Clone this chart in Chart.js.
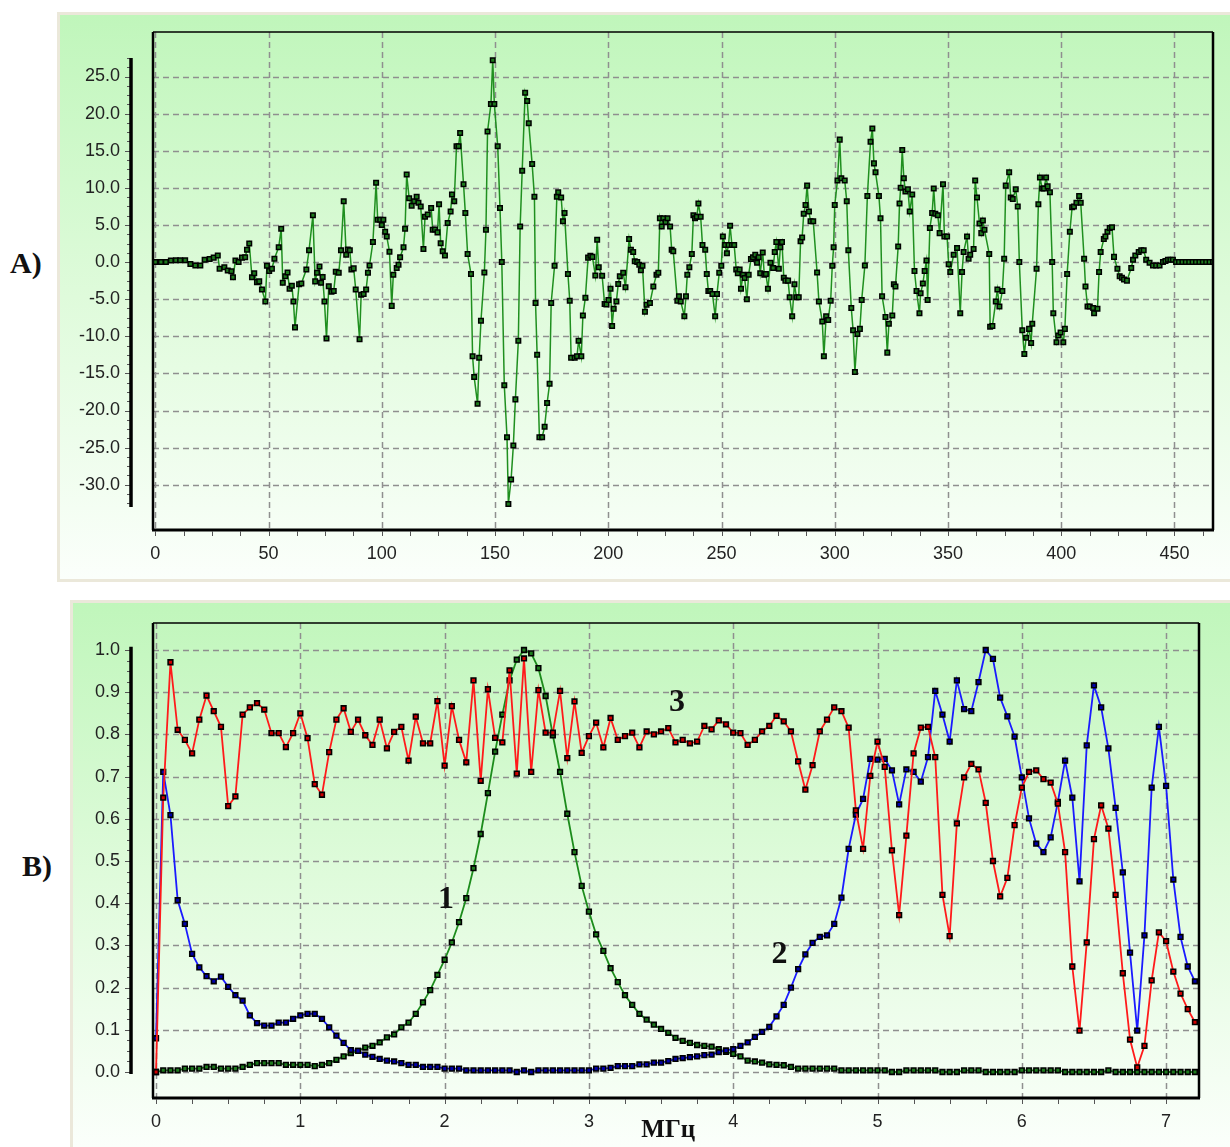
<!DOCTYPE html>
<html>
<head>
<meta charset="utf-8">
<script src="https://cdn.jsdelivr.net/npm/chart.js@4.4.1/dist/chart.umd.min.js"></script>
<style>
  body { margin: 0; width: 1230px; height: 1147px; background: #fff; position: relative; overflow: hidden; }
  .panel { position: absolute; box-sizing: border-box; background: linear-gradient(to bottom, #c0f6bb 0%, #dffbdb 50%, #fbfffb 100%); border: 3px solid #ebe8da; border-right: 0; }
  #panelA { left: 57px; top: 12px; width: 1173px; height: 570px; }
  #panelB { left: 70px; top: 600px; width: 1160px; height: 547px; border-bottom: 0; }
  canvas { position: absolute; }
  #chartA { left: 57px; top: 12px; }
  #chartB { left: 70px; top: 600px; }
  .tag { position: absolute; font: bold 30px "Liberation Serif", "DejaVu Serif", serif; line-height: 30px; color: #111; }
</style>
</head>
<body>
<div class="panel" id="panelA"></div>
<div class="panel" id="panelB"></div>
<canvas id="chartA" width="1173" height="570"></canvas>
<canvas id="chartB" width="1160" height="547"></canvas>
<div class="tag" style="left:10px;top:248px">A)</div>
<div class="tag" style="left:22px;top:851px">B)</div>
<script>
// signal (upper panel): sample positions and amplitudes
const timeA = [
  0, 2.5, 4.7, 6.9, 9.1, 11.0, 13.2, 15.5, 17.7, 19.9,
  21.8, 24.0, 25.8, 27.6, 28.4, 30.5, 32.0, 33.6, 34.3, 35.4,
  36.8, 38.3, 39.7, 40.5, 41.5, 42.7, 43.7, 44.9, 45.9, 47.1,
  48.6, 49.3, 50.3, 51.5, 52.6, 54.5, 55.6, 56.3, 57.4, 58.4,
  59.3, 60.3, 61.0, 61.7, 63.5, 64.5, 66.7, 67.9, 69.6, 70.6,
  71.4, 72.5, 73.2, 73.9, 74.7, 75.6, 76.6, 77.8, 78.8, 79.7,
  81.0, 82.0, 83.2, 84.3, 85.0, 85.9, 86.6, 87.6, 88.5, 90.2,
  90.9, 92.0, 93.1, 93.9, 94.6, 96.1, 97.5, 98.2, 99.3, 100.0,
  100.7, 101.5, 102.2, 103.4, 104.4, 105.1, 106.6, 107.4, 108.1, 109.6,
  110.3, 111.0, 112.1, 113.2, 114.3, 115.4, 116.2, 117.2, 118.4, 119.1,
  120.3, 121.8, 122.5, 123.5, 124.6, 125.3, 126.0, 126.9, 127.9, 129.1,
  130.4, 131.0, 132.0, 133.0, 133.9, 134.6, 136.1, 136.9, 137.9, 139.4,
  140.1, 140.8, 142.3, 143.0, 143.8, 145.3, 146.0, 146.7, 148.2, 149.0,
  149.7, 151.2, 152.2, 153.0, 154.1, 155.3, 155.9, 157.1, 158.1, 159.0,
  160.3, 161.1, 162.0, 163.3, 164.2, 164.9, 166.4, 167.4, 167.9, 168.6,
  169.6, 170.8, 171.9, 173.0, 174.1, 174.8, 176.3, 177.3, 177.9, 179.2,
  180.0, 180.7, 182.2, 183.0, 183.6, 185.2, 186.2, 186.9, 188.1, 188.8,
  189.9, 191.1, 192.1, 193.0, 194.3, 195.1, 195.8, 197.3, 198.4, 199.2,
  200.1, 201.0, 201.7, 202.4, 203.6, 204.4, 205.1, 206.6, 207.6, 209.2,
  210.0, 211.0, 211.7, 212.8, 213.7, 214.4, 215.1, 216.2, 216.9, 218.4,
  219.9, 221.3, 222.1, 222.8, 223.6, 224.3, 225.3, 226.2, 227.3, 228.0,
  228.7, 230.5, 231.2, 232.0, 233.6, 234.3, 234.9, 235.8, 236.9, 237.6,
  238.3, 239.1, 239.8, 240.8, 241.6, 242.8, 243.5, 244.2, 245.0, 246.0,
  247.2, 248.0, 249.0, 249.9, 250.6, 251.6, 252.4, 253.1, 253.8, 254.6,
  255.6, 256.5, 257.2, 258.0, 258.6, 259.5, 260.2, 261.2, 262.0, 263.0,
  263.9, 264.9, 265.7, 266.4, 267.1, 268.2, 268.9, 269.6, 270.5, 271.6,
  272.8, 273.5, 274.2, 275.3, 276.0, 276.7, 277.5, 278.2, 279.4, 280.1,
  281.2, 282.2, 283.1, 284.1, 284.9, 285.6, 286.3, 287.1, 287.8, 288.6,
  289.3, 290.5, 292.2, 293.0, 294.5, 295.2, 296.2, 297.1, 298.2, 298.9,
  299.5, 300.0, 301.2, 302.2, 302.9, 304.4, 305.3, 306.0, 307.3, 308.1,
  308.9, 310.0, 311.1, 311.9, 313.3, 314.4, 315.8, 316.6, 317.3, 318.0,
  319.5, 320.2, 320.9, 322.4, 323.2, 323.9, 325.4, 326.1, 326.8, 328.0,
  328.6, 329.1, 329.8, 330.5, 331.2, 332.3, 333.1, 334.2, 335.2, 336.1,
  337.4, 337.9, 338.9, 339.7, 340.5, 341.0, 342.0, 343.0, 343.7, 344.4,
  345.5, 346.3, 347.8, 348.4, 349.6, 350.3, 351.0, 352.5, 354.0, 355.4,
  356.2, 356.9, 358.4, 359.1, 359.8, 361.3, 362.0, 362.8, 363.9, 364.7,
  365.4, 366.1, 368.2, 368.6, 369.6, 371.1, 371.8, 372.7, 374.0, 374.8,
  375.5, 377.0, 377.7, 378.6, 379.9, 380.8, 381.5, 382.8, 383.7, 384.5,
  385.8, 386.7, 387.2, 389.1, 389.9, 390.6, 391.6, 392.4, 393.3, 394.0,
  395.0, 396.0, 396.5, 397.9, 398.7, 399.7, 400.9, 401.6, 402.6, 403.8,
  404.8, 405.6, 406.7, 407.9, 408.6, 410.1, 410.7, 411.6, 412.6, 414.1,
  414.5, 416.0, 416.7, 417.4, 418.8, 419.5, 420.4, 421.4, 422.4, 423.3,
  424.8, 425.8, 426.8, 427.7, 429.0, 430.9, 431.7, 432.7, 434.2, 435.3,
  436.4, 437.5, 439.0, 440.5, 441.9, 443.4, 444.9, 446.0, 447.1, 448.2,
  449.3, 450.7, 452.0, 453.5, 455.0, 456.5, 458.0, 459.5, 461.0, 462.5,
  464.0, 465.5, 467.0
];
const ampA = [
  0, 0, 0, 0.2, 0.25, 0.25, 0.25, -0.25, -0.45, -0.45,
  0.3, 0.4, 0.6, 0.9, -0.9, -0.7, -1.15, -1.25, -2.05, 0.2,
  0, 0.6, 0.65, 1.65, 2.5, -2.05, -1.5, -2.7, -2.6, -3.7,
  -5.3, -0.5, -1.2, -0.9, 0.45, 2.0, 4.5, -2.8, -1.9, -1.4,
  -3.6, -3.2, -5.3, -8.8, -3.0, -2.9, -1.0, 1.6, 6.3, -2.6,
  -1.45, -0.6, -2.8, -2.0, -5.3, -10.3, -3.25, -4.0, -3.9, -1.3,
  -1.45, 1.6, 8.2, 1.0, 1.7, 1.6, -1.0, -0.85, -3.7, -10.4,
  -4.4, -4.3, -3.7, -1.45, -0.45, 2.7, 10.7, 5.7, 5.7, 5.0,
  5.7, 4.1, 3.45, 1.4, -5.9, -1.7, -0.8, -0.35, 0.65, 2.0,
  4.5, 11.8, 8.6, 7.6, 8.2, 8.8, 8.0, 7.5, 1.75, 6.1,
  6.4, 7.3, 4.35, 4.4, 4.0, 7.8, 2.55, 1.45, 0.9, 5.25,
  6.8, 9.1, 8.2, 15.6, 15.6, 17.4, 10.5, 6.6, 1.1, -1.6,
  -12.7, -15.5, -19.1, -12.9, -7.9, -1.4, 4.35, 17.6, 21.3, 27.2,
  21.3, 15.6, 7.3, 0, -16.6, -23.6, -32.6, -29.3, -24.7, -18.5,
  -10.6, 4.8, 12.3, 22.8, 21.7, 18.7, 13.2, 8.8, -5.5, -12.5,
  -23.6, -23.6, -22.2, -19.0, -16.4, -5.5, -0.5, 8.8, 9.4, 8.7,
  5.5, 6.6, -1.6, -5.2, -12.9, -12.9, -12.7, -10.6, -12.7, -7.2,
  -4.8, 0.6, 0.85, 0.7, -1.8, 3.0, -0.7, -1.85, -5.65, -5.7,
  -5.1, -3.6, -8.6, -6.3, -5.3, -2.95, -1.9, -1.45, -3.4, 3.1,
  1.65, 1.35, 0.1, 0, -0.35, -1.1, -0.5, -6.7, -5.75, -5.5,
  -3.3, -1.7, -1.45, 5.9, 4.8, 5.9, 5.4, 5.9, 4.8, 1.65,
  1.45, -5.2, -4.6, -5.3, -7.3, -4.6, -1.7, -0.7, 1.1, 6.3,
  5.9, 6.1, 7.9, 6.1, 2.3, 1.65, -1.6, -3.9, -3.9, -4.3,
  -7.3, -4.3, -1.45, -0.5, 3.45, 2.3, 1.2, 2.3, 4.9, 2.3,
  2.3, -1.0, -1.5, -1.0, -3.6, -1.7, -2.15, -5.0, -1.7, 0.4,
  0.65, 1.0, -0.1, 0.65, -1.5, 1.3, -1.7, -1.6, -3.6, -0.1,
  -0.8, 1.35, 2.7, -0.9, 2.0, 2.7, -2.1, -2.5, -2.5, -4.75,
  -7.3, -3.0, -4.75, -4.75, 2.8, 3.3, 6.5, 7.7, 10.3, 6.8,
  5.5, 5.5, -1.4, -5.3, -8.0, -12.7, -7.3, -7.8, -5.2, -0.5,
  2.0, 7.7, 11.0, 16.5, 11.3, 11.0, 8.2, 1.6, -6.2, -9.2,
  -14.8, -9.7, -9.0, -5.1, -0.45, 8.9, 16.2, 18.0, 13.3, 12.1,
  8.9, 5.9, -4.6, -7.4, -12.2, -8.3, -7.2, -3.0, -3.3, 2.1,
  7.9, 10.0, 15.1, 11.3, 9.5, 9.8, 6.8, 9.1, -1.2, -3.9,
  -6.9, -4.2, -2.9, -1.2, 0.2, -5.1, 4.6, 6.6, 9.9, 6.5,
  6.3, 3.9, 10.5, 3.45, 3.45, -0.3, -1.35, 1.0, 1.9, -6.9,
  -1.35, 1.35, 3.45, 0.45, 1.0, 1.75, 11.0, 8.7, 5.2, 3.9,
  5.6, 4.35, 1.1, -8.7, -8.6, -5.3, -3.7, -6.0, -3.9, 0.45,
  10.3, 12.1, 8.7, 8.5, 9.8, 7.5, 0, -9.2, -12.4, -10.2,
  -9.0, -10.9, -8.3, -0.9, 7.8, 11.4, 9.9, 9.9, 11.4, 10.2,
  9.4, 0, -6.9, -10.8, -9.9, -9.5, -10.8, -9.0, -1.6, 4.1,
  7.4, 7.5, 8.0, 8.9, 8.0, 0.45, -3.3, -6.0, -6.0, -6.2,
  -6.9, -6.3, -1.35, 1.35, 3.1, 3.45, 4.1, 4.6, 4.7, 0.7,
  -0.9, -1.9, -2.1, -2.35, -2.5, -0.8, 0.3, 0.9, 1.35, 1.6,
  1.6, 0.3, -0.1, -0.45, -0.45, -0.45, 0, 0.15, 0.3, 0.3,
  0.3, 0, 0, 0, 0, 0, 0, 0, 0, 0,
  0, 0, 0
];
const ticksXA = [0, 50, 100, 150, 200, 250, 300, 350, 400, 450];
const ticksYA = [-30, -25, -20, -15, -10, -5, 0, 5, 10, 15, 20, 25];

// spectra (lower panel), one value every 0.05 MHz
const stepB = 0.05;
const spec1 = [
  0, 0.004, 0.004, 0.004, 0.008, 0.008, 0.008, 0.012, 0.012, 0.008,
  0.008, 0.008, 0.012, 0.017, 0.021, 0.021, 0.021, 0.021, 0.017, 0.017,
  0.017, 0.017, 0.014, 0.017, 0.021, 0.029, 0.037, 0.045, 0.05, 0.058,
  0.062, 0.07, 0.082, 0.089, 0.106, 0.117, 0.138, 0.165, 0.194, 0.23,
  0.266, 0.307, 0.355, 0.412, 0.483, 0.564, 0.661, 0.759, 0.847, 0.928,
  0.977, 1.0, 0.992, 0.957, 0.891, 0.798, 0.711, 0.612, 0.521, 0.441,
  0.38, 0.326, 0.287, 0.246, 0.213, 0.182, 0.159, 0.138, 0.124, 0.112,
  0.102, 0.093, 0.081, 0.074, 0.069, 0.064, 0.062, 0.06, 0.054, 0.048,
  0.043, 0.037, 0.027, 0.025, 0.022, 0.018, 0.017, 0.016, 0.012, 0.008,
  0.008, 0.008, 0.008, 0.008, 0.008, 0.004, 0.004, 0.004, 0.004, 0.004,
  0.004, 0.004, 0, 0, 0.004, 0.004, 0.004, 0.004, 0.004, 0,
  0, 0, 0.004, 0.004, 0.004, 0, 0, 0, 0, 0,
  0.004, 0.004, 0.004, 0.004, 0.004, 0.004, 0, 0, 0, 0,
  0, 0, 0.004, 0, 0, 0, 0, 0, 0, 0,
  0, 0, 0, 0, 0
];
const spec2 = [
  0.08, 0.711, 0.609, 0.407, 0.351, 0.28, 0.248, 0.227, 0.215, 0.226,
  0.202, 0.182, 0.169, 0.134, 0.116, 0.11, 0.11, 0.117, 0.117, 0.126,
  0.134, 0.138, 0.138, 0.126, 0.106, 0.086, 0.069, 0.052, 0.05, 0.041,
  0.036, 0.031, 0.027, 0.025, 0.021, 0.017, 0.017, 0.012, 0.012, 0.012,
  0.008, 0.008, 0.008, 0.004, 0.004, 0.004, 0.004, 0.004, 0.004, 0.004,
  0, 0.004, 0, 0.004, 0.004, 0.004, 0.004, 0.004, 0.004, 0.004,
  0.004, 0.008, 0.008, 0.01, 0.014, 0.014, 0.014, 0.018, 0.018, 0.022,
  0.022, 0.026, 0.031, 0.033, 0.035, 0.037, 0.04, 0.041, 0.047, 0.051,
  0.054, 0.062, 0.07, 0.083, 0.095, 0.107, 0.132, 0.159, 0.2, 0.244,
  0.279, 0.306, 0.32, 0.324, 0.351, 0.413, 0.529, 0.61, 0.647, 0.742,
  0.74, 0.742, 0.715, 0.634, 0.717, 0.711, 0.688, 0.746, 0.903, 0.847,
  0.783, 0.928, 0.86, 0.855, 0.924, 1.0, 0.979, 0.887, 0.843, 0.795,
  0.698, 0.601, 0.541, 0.521, 0.556, 0.64, 0.738, 0.65, 0.452, 0.774,
  0.916, 0.864, 0.767, 0.626, 0.473, 0.283, 0.098, 0.324, 0.674, 0.818,
  0.678, 0.456, 0.32, 0.25, 0.215
];
const spec3 = [
  0, 0.65, 0.971, 0.811, 0.787, 0.755, 0.835, 0.892, 0.855, 0.818,
  0.63, 0.653, 0.847, 0.864, 0.874, 0.859, 0.803, 0.803, 0.77, 0.803,
  0.85, 0.791, 0.682, 0.657, 0.758, 0.835, 0.862, 0.806, 0.835, 0.798,
  0.775, 0.835, 0.767, 0.806, 0.818, 0.738, 0.842, 0.779, 0.779, 0.879,
  0.726, 0.867, 0.787, 0.734, 0.928, 0.69, 0.907, 0.792, 0.781, 0.952,
  0.707, 0.98, 0.711, 0.905, 0.804, 0.804, 0.903, 0.744, 0.878, 0.756,
  0.796, 0.828, 0.769, 0.839, 0.787, 0.796, 0.804, 0.769, 0.807, 0.8,
  0.807, 0.815, 0.781, 0.787, 0.779, 0.783, 0.82, 0.812, 0.833, 0.824,
  0.804, 0.803, 0.775, 0.787, 0.807, 0.82, 0.844, 0.831, 0.807, 0.736,
  0.669, 0.727, 0.807, 0.835, 0.864, 0.855, 0.816, 0.62, 0.529, 0.702,
  0.783, 0.723, 0.525, 0.372, 0.56, 0.755, 0.816, 0.818, 0.746, 0.42,
  0.322, 0.589, 0.698, 0.73, 0.717, 0.638, 0.5, 0.416, 0.46, 0.585,
  0.674, 0.711, 0.715, 0.694, 0.686, 0.636, 0.521, 0.25, 0.098, 0.307,
  0.552, 0.632, 0.577, 0.42, 0.234, 0.077, 0.011, 0.062, 0.217, 0.331,
  0.31, 0.238, 0.186, 0.149, 0.118
];
const ticksXB = [0, 1, 2, 3, 4, 5, 6, 7];
const ticksYB = [0, 0.1, 0.2, 0.3, 0.4, 0.5, 0.6, 0.7, 0.8, 0.9, 1.0];
const curveTags = ['1', '2', '3'];

const tickFont = { family: '"Liberation Sans", Arial, sans-serif', size: 18 };

// dashed grid, black frame, y labels on a separate bar, minor ticks
function decor(cfg) {
  return {
    id: 'decor',
    beforeDatasetsDraw(chart) {
      const { ctx, chartArea: a, scales: { x, y } } = chart;
      ctx.save();
      ctx.strokeStyle = '#8f8f8f';
      ctx.lineWidth = 1.5;
      ctx.setLineDash([6, 4]);
      ctx.beginPath();
      cfg.gridX.forEach(v => {
        const p = Math.round(x.getPixelForValue(v)) + 0.5;
        ctx.moveTo(p, a.top); ctx.lineTo(p, a.bottom);
      });
      cfg.gridY.forEach(v => {
        const p = Math.round(y.getPixelForValue(v)) + 0.5;
        ctx.moveTo(a.left, p); ctx.lineTo(a.right, p);
      });
      ctx.stroke();
      ctx.restore();
    },
    afterDraw(chart) {
      const { ctx, chartArea: a, scales: { x, y } } = chart;
      ctx.save();
      ctx.strokeStyle = '#000';
      ctx.lineWidth = 1.5;
      ctx.beginPath(); ctx.moveTo(a.left, a.top); ctx.lineTo(a.right, a.top); ctx.stroke();
      ctx.lineWidth = 2.5;
      ctx.beginPath();
      ctx.moveTo(a.left, a.top); ctx.lineTo(a.left, a.bottom);
      ctx.moveTo(a.right, a.top); ctx.lineTo(a.right, a.bottom);
      ctx.stroke();
      ctx.lineWidth = 3;
      ctx.beginPath(); ctx.moveTo(a.left - 1, a.bottom); ctx.lineTo(a.right + 1, a.bottom); ctx.stroke();

      // small ticks under the frame
      ctx.strokeStyle = '#555';
      ctx.lineWidth = 1;
      ctx.beginPath();
      for (let i = 0; i * cfg.minorX <= x.max; i++) {
        const p = Math.round(x.getPixelForValue(i * cfg.minorX)) + 0.5;
        ctx.moveTo(p, a.bottom + 1); ctx.lineTo(p, a.bottom + 6);
      }
      ctx.stroke();

      // y bar standing apart from the frame
      const yTop = y.getPixelForValue(cfg.barHigh), yBot = y.getPixelForValue(cfg.barLow);
      ctx.beginPath();
      const i0 = Math.ceil(cfg.barLow / cfg.minorY - 1e-6), i1 = Math.floor(cfg.barHigh / cfg.minorY + 1e-6);
      for (let i = i0; i <= i1; i++) {
        const p = Math.round(y.getPixelForValue(i * cfg.minorY)) + 0.5;
        const len = i % 4 === 0 ? 6 : 4;
        ctx.moveTo(cfg.barX - len, p); ctx.lineTo(cfg.barX, p);
      }
      ctx.stroke();
      ctx.strokeStyle = '#000';
      ctx.lineWidth = 3.5;
      ctx.beginPath(); ctx.moveTo(cfg.barX, yTop); ctx.lineTo(cfg.barX, yBot); ctx.stroke();

      ctx.fillStyle = '#222';
      ctx.font = tickFont.size + 'px ' + tickFont.family;
      ctx.textAlign = 'right';
      ctx.textBaseline = 'middle';
      cfg.gridY.forEach(v => ctx.fillText(v.toFixed(1), cfg.labelRight, y.getPixelForValue(v)));

      ctx.fillStyle = '#111';
      ctx.textAlign = 'center';
      (cfg.tags || []).forEach(t => {
        ctx.font = t.font;
        ctx.fillText(t.text, x.getPixelForValue(t.x), y.getPixelForValue(t.y));
      });
      if (cfg.title) {
        ctx.font = 'bold 25px "Liberation Serif", serif';
        ctx.fillText(cfg.title, x.getPixelForValue(cfg.titleX), a.bottom + 33);
      }
      ctx.restore();
    }
  };
}

function axisX(min, max, ticks, height) {
  return {
    type: 'linear', min: min, max: max,
    afterBuildTicks: s => { s.ticks = ticks.map(v => ({ value: v })); },
    afterFit: s => { s.height = height; },
    grid: { display: false, drawTicks: false },
    border: { display: false },
    ticks: { autoSkip: false, maxRotation: 0, padding: 13, color: '#222', font: tickFont }
  };
}
function axisY(min, max, width) {
  return {
    min: min, max: max,
    afterFit: s => { s.width = width; },
    grid: { display: false, drawTicks: false },
    border: { display: false },
    ticks: { display: false }
  };
}

new Chart(document.getElementById('chartA'), {
  type: 'line',
  data: {
    datasets: [{
      data: timeA.map((t, i) => ({ x: t, y: ampA[i] })),
      borderColor: '#1f8f1f',
      borderWidth: 1.5,
      pointStyle: 'rect',
      pointRadius: 3.2,
      pointBorderColor: '#000',
      pointBackgroundColor: '#1d7a1d',
      pointBorderWidth: 1.5
    }]
  },
  options: {
    responsive: false,
    animation: false,
    devicePixelRatio: 1,
    layout: { padding: { left: 0, top: 20, right: 17, bottom: 0 } },
    plugins: { legend: { display: false }, tooltip: { enabled: false } },
    scales: {
      x: axisX(-1, 467, ticksXA, 52),
      y: axisY(-36.1, 31, 96)
    }
  },
  plugins: [decor({ gridX: ticksXA, gridY: ticksYA, minorX: 12.5, minorY: 1.25, barX: 74, barLow: -33, barHigh: 27.5, labelRight: 63 })]
});

const freqB = spec1.map((v, i) => i * stepB);
function specSet(values, line, fill) {
  return {
    data: values.map((v, i) => ({ x: freqB[i], y: v })),
    borderColor: line,
    borderWidth: 1.8,
    pointStyle: 'rect',
    pointRadius: 3.3,
    pointBorderColor: '#000',
    pointBackgroundColor: fill,
    pointBorderWidth: 1.6
  };
}

const tagFont = 'bold 32px "Liberation Serif", serif';
new Chart(document.getElementById('chartB'), {
  type: 'line',
  data: {
    datasets: [
      specSet(spec3, '#ff1a1a', '#d00000'),
      specSet(spec2, '#1a1aff', '#0000a8'),
      specSet(spec1, '#1c8c1c', '#1d7a1d')
    ]
  },
  options: {
    responsive: false,
    animation: false,
    devicePixelRatio: 1,
    layout: { padding: { left: 0, top: 23, right: 31, bottom: 0 } },
    plugins: { legend: { display: false }, tooltip: { enabled: false } },
    scales: {
      x: axisX(-0.021, 7.228, ticksXB, 49),
      y: axisY(-0.0616, 1.064, 83)
    }
  },
  plugins: [decor({
    gridX: ticksXB, gridY: ticksYB, minorX: 0.25, minorY: 0.025, barX: 61, barLow: -0.005, barHigh: 1.008, labelRight: 50,
    tags: [
      { text: curveTags[0], x: 2.01, y: 0.408, font: tagFont },
      { text: curveTags[1], x: 4.32, y: 0.277, font: tagFont },
      { text: curveTags[2], x: 3.61, y: 0.874, font: tagFont }
    ],
    title: 'МГц', titleX: 3.55
  })]
});
</script>
</body>
</html>
